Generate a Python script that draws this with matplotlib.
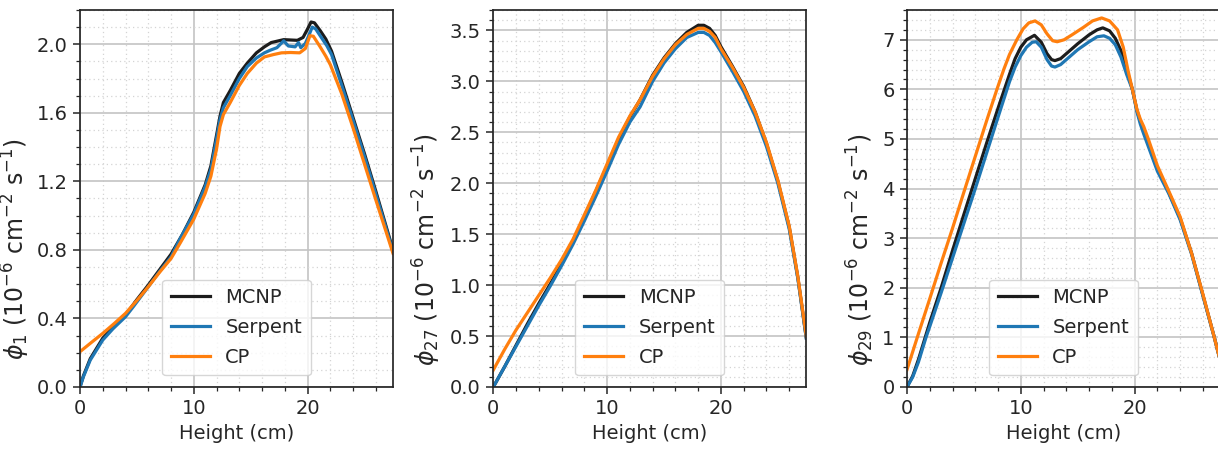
import matplotlib
matplotlib.use("Agg")
import matplotlib.pyplot as plt
from matplotlib.ticker import MultipleLocator

# ---------------- data ----------------
# Panel 1 (phi_1)
p1_mcnp_x = [0, 0.3, 0.9, 2, 3, 4, 5, 6, 7, 8, 9, 10, 11, 11.5, 12, 12.3, 12.6, 13.2, 14, 14.7,
             15.5, 16.2, 16.8, 17.9, 19.1, 19.6, 20.0, 20.3, 20.6, 21.1, 21.6, 22.1, 23, 24, 25, 26,
             27.5]
p1_mcnp_y = [0, 0.065, 0.165, 0.285, 0.355, 0.42, 0.51, 0.595, 0.685, 0.775, 0.89, 1.02, 1.18, 1.29,
             1.47, 1.58, 1.66, 1.73, 1.83, 1.89, 1.95, 1.985, 2.01, 2.027, 2.023, 2.04, 2.09, 2.13,
             2.125, 2.08, 2.03, 1.96, 1.78, 1.57, 1.36, 1.14, 0.8]
p1_serp_x = [0, 0.3, 0.9, 2, 2.9, 4, 4.7, 6, 7, 8, 8.8, 10, 11, 11.5, 12, 12.3, 12.6, 13.2, 14, 14.7,
             15.5, 16.2, 16.7, 17.3, 17.9, 18.3, 18.9, 19.2, 19.4, 19.8, 20.1, 20.4, 20.7, 21.2,
             21.7, 22.1, 23, 24, 25, 26, 27.5]
p1_serp_y = [0, 0.06, 0.157, 0.274, 0.34, 0.41, 0.47, 0.585, 0.675, 0.76, 0.866, 1.01, 1.17, 1.27,
             1.45, 1.56, 1.63, 1.70, 1.80, 1.87, 1.92, 1.95, 1.965, 1.98, 2.02, 1.99, 1.985, 2.01,
             1.98, 2.005, 2.05, 2.10, 2.09, 2.04, 1.99, 1.94, 1.76, 1.555, 1.345, 1.125, 0.79]
p1_cp_x = [0, 1, 2, 3, 4, 5, 6, 7, 8, 8.8, 10, 11, 11.5, 12, 12.3, 12.6, 13.2, 14, 14.7, 15.5, 16.2,
           17, 17.7, 18.5, 19.3, 19.8, 20.2, 20.5, 21.1, 21.6, 22, 23, 24, 25, 26, 27.5]
p1_cp_y = [0.206, 0.26, 0.313, 0.37, 0.43, 0.505, 0.585, 0.67, 0.75, 0.84, 0.98, 1.13, 1.23, 1.39,
           1.52, 1.59, 1.66, 1.76, 1.83, 1.89, 1.926, 1.94, 1.95, 1.952, 1.95, 1.975, 2.05, 2.047,
           1.985, 1.93, 1.88, 1.71, 1.51, 1.3, 1.09, 0.78]

# Panel 2 (phi_27)
p2_x = [0, 1, 2, 3, 4, 5, 6, 7, 8, 9, 10, 11, 12, 12.9, 14, 15, 16, 17, 18, 18.5, 19, 19.5, 20,
        21, 22, 23, 24, 25, 26, 26.75, 27.5]
p2_mcnp_y = [0, 0.2, 0.41, 0.62, 0.82, 1.01, 1.21, 1.43, 1.67, 1.92, 2.17, 2.43, 2.65, 2.82, 3.06,
             3.23, 3.37, 3.48, 3.55, 3.55, 3.52, 3.45, 3.34, 3.15, 2.95, 2.7, 2.39, 2.02, 1.57,
             1.08, 0.48]
p2_serp_y = [0, 0.2, 0.4, 0.6, 0.8, 0.99, 1.19, 1.4, 1.63, 1.87, 2.12, 2.38, 2.6, 2.75, 3.0, 3.18,
             3.32, 3.43, 3.48, 3.48, 3.45, 3.38, 3.29, 3.1, 2.9, 2.66, 2.36, 2.0, 1.55, 1.07, 0.48]
p2_cp_y = [0.167, 0.37, 0.56, 0.73, 0.9, 1.07, 1.25, 1.45, 1.69, 1.93, 2.19, 2.45, 2.66, 2.82, 3.05,
           3.22, 3.36, 3.46, 3.52, 3.52, 3.49, 3.43, 3.32, 3.14, 2.94, 2.7, 2.4, 2.03, 1.58, 1.09,
           0.5]

# Panel 3 (phi_29)
p3_mcnp_x = [0, 0.5, 1, 2, 3, 4, 5, 6, 7, 8, 9, 9.5, 10, 10.5, 11.2, 11.8, 12.3, 12.7, 13, 13.5, 14,
             15, 16, 16.7, 17.2, 17.8, 18.3, 18.8, 19.3, 19.8, 20.2, 20.5, 20.8, 21.2, 22, 23, 24,
             25, 26, 27, 27.5]
p3_mcnp_y = [0, 0.22, 0.55, 1.3, 2.0, 2.75, 3.48, 4.2, 4.92, 5.62, 6.3, 6.62, 6.85, 7.0, 7.09, 6.95,
             6.72, 6.6, 6.58, 6.62, 6.72, 6.92, 7.1, 7.2, 7.24, 7.18, 7.03, 6.78, 6.4, 6.0, 5.58,
             5.35, 5.15, 4.9, 4.4, 3.92, 3.4, 2.7, 1.85, 1.0, 0.55]
p3_serp_x = [0, 0.5, 1, 1.67, 2, 3, 4, 5, 6, 7, 8, 9, 9.5, 10, 10.5, 11, 11.35, 11.8, 12.3, 12.7, 13,
             13.5, 14, 15, 16, 16.7, 17.3, 17.8, 18.3, 18.8, 19.3, 19.8, 20.2, 20.5, 20.8, 21.2, 22,
             23, 24, 25, 26, 27, 27.5]
p3_serp_y = [0, 0.2, 0.5, 1.0, 1.22, 1.9, 2.6, 3.3, 4.0, 4.72, 5.44, 6.15, 6.45, 6.68, 6.85, 6.95,
             6.96, 6.85, 6.6, 6.47, 6.45, 6.5, 6.6, 6.8, 6.96, 7.06, 7.08, 7.03, 6.9, 6.65, 6.3, 6.0,
             5.55, 5.3, 5.1, 4.85, 4.35, 3.9, 3.37, 2.68, 1.84, 1.0, 0.55]
p3_cp_x = [0, 1, 2, 3, 4, 5, 6, 7, 7.9, 8.5, 9, 9.65, 10.2, 10.7, 11.25, 11.8, 12.3, 12.8, 13.2, 13.8,
           14.5, 15.5, 16.3, 17.1, 17.8, 18.5, 19, 19.4, 19.8, 20.2, 20.5, 20.8, 21.2, 22, 23, 24,
           25, 26, 27, 27.5]
p3_cp_y = [0.35, 1.07, 1.78, 2.5, 3.2, 3.93, 4.65, 5.37, 6.0, 6.4, 6.7, 7.0, 7.22, 7.34, 7.38, 7.3,
           7.12, 6.98, 6.96, 7.0, 7.1, 7.25, 7.38, 7.44, 7.38, 7.2, 6.85, 6.4, 6.0, 5.6, 5.4, 5.25,
           5.0, 4.46, 3.95, 3.43, 2.7, 1.87, 1.0, 0.55]

series_labels = ["MCNP", "Serpent", "CP"]
series_colors = ["#1c1c1c", "#1f77b4", "#ff7f0e"]
ylabels = [r"$\phi_1$ (10$^{-6}$ cm$^{-2}$ s$^{-1}$)",
           r"$\phi_{27}$ (10$^{-6}$ cm$^{-2}$ s$^{-1}$)",
           r"$\phi_{29}$ (10$^{-6}$ cm$^{-2}$ s$^{-1}$)"]
xlabel = "Height (cm)"

panels = [
    [(p1_mcnp_x, p1_mcnp_y), (p1_serp_x, p1_serp_y), (p1_cp_x, p1_cp_y)],
    [(p2_x, p2_mcnp_y), (p2_x, p2_serp_y), (p2_x, p2_cp_y)],
    [(p3_mcnp_x, p3_mcnp_y), (p3_serp_x, p3_serp_y), (p3_cp_x, p3_cp_y)],
]
ylims = [(0, 2.2), (0, 3.7), (0, 7.6)]
ymajor = [0.4, 0.5, 1.0]
yminor = [0.1, 0.1, 0.2]

# ---------------- style ----------------
plt.rcParams["font.family"] = ["DejaVu Sans"]
plt.rcParams["font.size"] = 14
plt.rcParams["mathtext.fontset"] = "dejavusans"
txt = "#262626"

W, H = 1218, 455
fig = plt.figure(figsize=(W / 100, H / 100), dpi=100)
lefts = [80, 493.3, 907]
axw = 313
top_px, bot_px = 10, 387
label_x = [-0.153, -0.16, -0.096]

for i in range(3):
    ax = fig.add_axes([lefts[i] / W, 1 - bot_px / H, axw / W, (bot_px - top_px) / H])
    for (xs, ys), lab, col in zip(panels[i], series_labels, series_colors):
        ax.plot(xs, ys, color=col, lw=2.3, label=lab, solid_joinstyle="round")
    ax.set_xlim(0, 27.5)
    ax.set_ylim(*ylims[i])
    ax.xaxis.set_major_locator(MultipleLocator(10))
    ax.xaxis.set_minor_locator(MultipleLocator(2))
    ax.yaxis.set_major_locator(MultipleLocator(ymajor[i]))
    ax.yaxis.set_minor_locator(MultipleLocator(yminor[i]))
    ax.grid(which="major", color="#c4c4c4", lw=1.2, ls="-")
    ax.grid(which="minor", color="#d4d4d4", lw=0.9, ls=(0, (1, 2.5)))
    ax.set_axisbelow(True)
    ax.tick_params(which="major", direction="out", length=5, width=1.1, color=txt,
                   labelcolor=txt, labelsize=14, pad=4)
    ax.tick_params(which="minor", direction="out", length=3, width=0.9, color=txt)
    for s in ax.spines.values():
        s.set_color(txt)
        s.set_linewidth(1.25)
    ax.set_xlabel(xlabel, color=txt, fontsize=14)
    ax.set_ylabel(ylabels[i], color=txt, fontsize=17)
    ax.yaxis.set_label_coords(label_x[i], 0.365)
    leg = ax.legend(loc="lower center", fontsize=14, labelspacing=0.55,
                    handlelength=2.0, borderpad=0.45, framealpha=0.8,
                    bbox_to_anchor=(0.5, 0.005))
    leg.get_frame().set_edgecolor("#cccccc")
    for t in leg.get_texts():
        t.set_color(txt)

fig.savefig("out.png", dpi=100)
